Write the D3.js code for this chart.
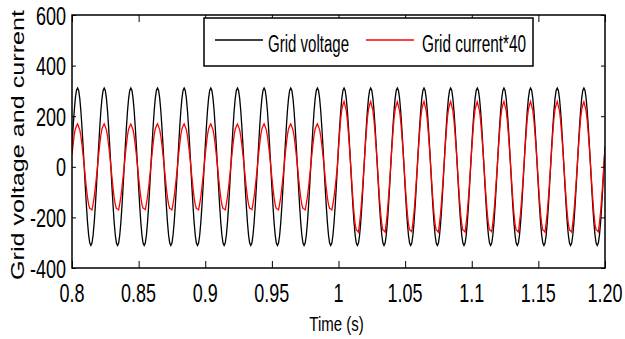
<!DOCTYPE html>
<html>
<head>
<meta charset="utf-8">
<script src="https://cdn.jsdelivr.net/npm/d3@7"></script>
<style>
  html, body { margin: 0; padding: 0; background: #fff; }
  svg { display: block; font-family: "Liberation Sans", Arial, sans-serif; }
</style>
</head>
<body>
<svg id="chart" width="625" height="339"></svg>
<script>
// ---------------- data ----------------
const xTicks = [0.8, 0.85, 0.9, 0.95, 1.0, 1.05, 1.1, 1.15, 1.2];
const xTickLabels = ["0.8", "0.85", "0.9", "0.95", "1", "1.05", "1.1", "1.15", "1.20"];
const yTicks = [-400, -200, 0, 200, 400, 600];
const yTickLabels = ["-400", "-200", "0", "200", "400", "600"];

// start time of each 50 Hz grid cycle shown
const cycleStarts = [0.80, 0.82, 0.84, 0.86, 0.88, 0.90, 0.92, 0.94, 0.96, 0.98,
                     1.00, 1.02, 1.04, 1.06, 1.08, 1.10, 1.12, 1.14, 1.16, 1.18];
const cyclePeriod = 0.02;
// peak value of each cycle
const voltagePeaks = [311, 311, 311, 311, 311, 311, 311, 311, 311, 311,
                      311, 311, 311, 311, 311, 311, 311, 311, 311, 311];
const currentPeaks = [170, 170, 169, 170, 170, 170, 169, 170, 170, 170,
                      258, 258, 257, 258, 258, 257, 258, 258, 258, 257];
// per-unit waveform shape of one cycle, sampled every 15 degrees (starting 15 deg)
const voltageShape = [0.26, 0.50, 0.71, 0.87, 0.97, 1.00, 0.97, 0.87, 0.71, 0.50, 0.26, 0.00,
                      -0.26, -0.50, -0.71, -0.87, -0.97, -1.00, -0.97, -0.87, -0.71, -0.50, -0.26, 0.00];
const currentShape = [0.28, 0.52, 0.74, 0.88, 0.95, 1.00, 0.93, 0.86, 0.71, 0.50, 0.27, 0.02,
                      -0.25, -0.50, -0.72, -0.88, -0.97, -0.98, -1.00, -0.86, -0.70, -0.48, -0.24, 0.01];

const seriesNames = ["Grid voltage", "Grid current*40"];
const seriesColors = ["#000000", "#ff0000"];

// ---------------- build point lists ----------------
function buildSeries(shape, peaks) {
  const n = shape.length, pts = [];
  cycleStarts.forEach((t0, k) => {
    shape.forEach((v, j) => pts.push([t0 + j * cyclePeriod / n, v * peaks[k]]));
  });
  const last = cycleStarts.length - 1;
  pts.push([cycleStarts[last] + cyclePeriod, shape[0] * peaks[last]]);
  return pts;
}
const voltage = buildSeries(voltageShape, voltagePeaks);
const current = buildSeries(currentShape, currentPeaks);

// ---------------- layout ----------------
const svg = d3.select("#chart");
const L = 72, R = 605, T = 15, B = 268;
const x = d3.scaleLinear().domain([0.8, 1.2]).range([L, R]);
const y = d3.scaleLinear().domain([-400, 600]).range([B, T]);

svg.append("defs").append("clipPath").attr("id", "clip")
  .append("rect").attr("x", L).attr("y", T).attr("width", R - L).attr("height", B - T);

const line = d3.line().x(d => x(d[0])).y(d => y(d[1]));
const plot = svg.append("g").attr("clip-path", "url(#clip)");
plot.append("path").datum(voltage).attr("d", line)
  .attr("fill", "none").attr("stroke", seriesColors[0]).attr("stroke-width", 1.3);
plot.append("path").datum(current).attr("d", line)
  .attr("fill", "none").attr("stroke", seriesColors[1]).attr("stroke-width", 1.3);

// axes (MATLAB style: ticks inside, on all four sides)
const axB = d3.axisBottom(x).tickValues(xTicks).tickSize(-7).tickFormat("");
const axT = d3.axisTop(x).tickValues(xTicks).tickSize(-7).tickFormat("");
const axLft = d3.axisLeft(y).tickValues(yTicks).tickSize(-4).tickFormat("");
const axRgt = d3.axisRight(y).tickValues(yTicks).tickSize(-4).tickFormat("");
[[axB, `translate(0,${B})`], [axT, `translate(0,${T})`], [axLft, `translate(${L},0)`], [axRgt, `translate(${R},0)`]]
  .forEach(([ax, tr]) => {
    const g = svg.append("g").attr("transform", tr).call(ax);
    g.select(".domain").remove();
    g.selectAll("line").attr("stroke", "#000").attr("stroke-width", 1);
  });
svg.append("rect").attr("x", L).attr("y", T).attr("width", R - L).attr("height", B - T)
  .attr("fill", "none").attr("stroke", "#000").attr("stroke-width", 1.5);

// tick labels (condensed, tall glyphs as in the reference)
const sx = 0.72;
xTicks.forEach((v, i) => {
  svg.append("text").text(xTickLabels[i])
    .attr("text-anchor", "middle").attr("font-size", 25).attr("fill", "#000")
    .attr("transform", `translate(${x(v)},${B + 34}) scale(${sx},1)`);
});
yTicks.forEach((v, i) => {
  svg.append("text").text(yTickLabels[i])
    .attr("text-anchor", "end").attr("font-size", 25).attr("fill", "#000")
    .attr("transform", `translate(66,${y(v) + 9.5}) scale(${sx},1)`);
});

// axis titles
svg.append("text").text("Time (s)")
  .attr("text-anchor", "middle").attr("font-size", 19.5).attr("fill", "#000")
  .attr("transform", `translate(336.5,331) scale(0.77,1)`);
svg.append("text").text("Grid voltage and current")
  .attr("text-anchor", "middle").attr("font-size", 18).attr("fill", "#000")
  .attr("transform", `translate(24,145) rotate(-90) scale(1.4,1)`);

// legend
const lg = svg.append("g");
lg.append("rect").attr("x", 204).attr("y", 18).attr("width", 329).attr("height", 48)
  .attr("fill", "#fff").attr("stroke", "#000").attr("stroke-width", 1.5);
const legendItems = [
  { x1: 215, x2: 263, tx: 268, w: 81 },
  { x1: 366, x2: 414, tx: 422, w: 104 }
];
legendItems.forEach((it, i) => {
  lg.append("line").attr("x1", it.x1).attr("x2", it.x2).attr("y1", 40).attr("y2", 40)
    .attr("stroke", seriesColors[i]).attr("stroke-width", 1.3);
  lg.append("text").text(seriesNames[i])
    .attr("font-size", 23).attr("fill", "#000")
    .attr("x", it.tx).attr("y", 52)
    .attr("textLength", it.w).attr("lengthAdjust", "spacingAndGlyphs");
});
</script>
</body>
</html>
